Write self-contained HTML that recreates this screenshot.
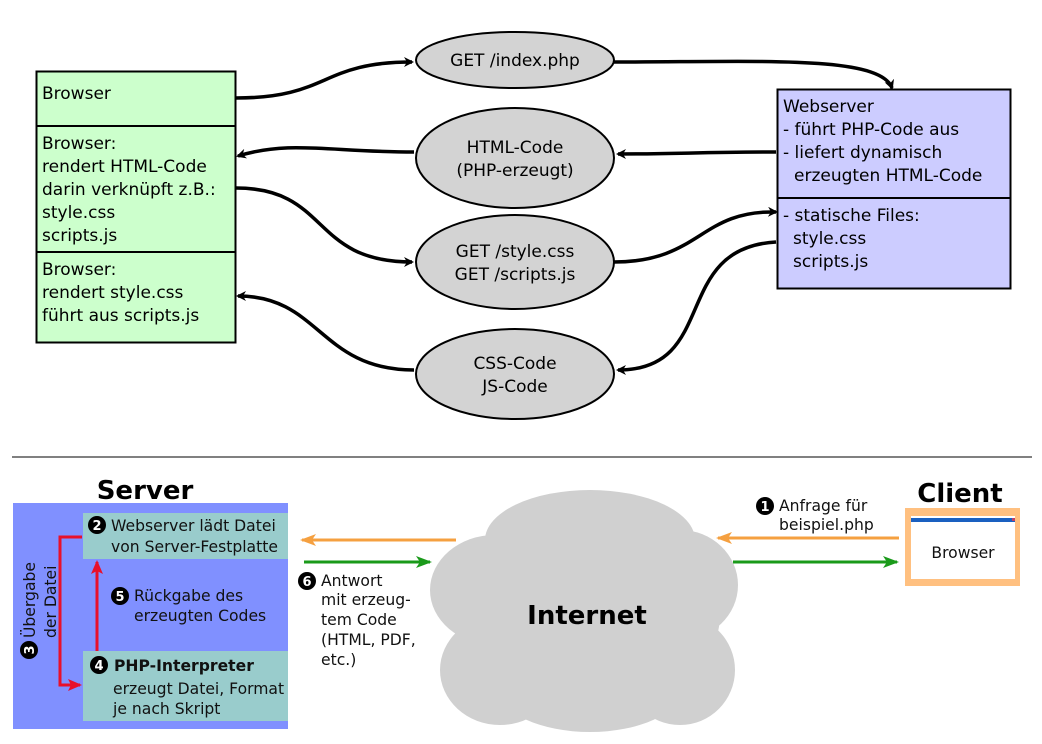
<!DOCTYPE html>
<html><head><meta charset="utf-8"><style>
html,body{margin:0;padding:0;background:#fff}
svg text{font-family:"DejaVu Sans","Liberation Sans",sans-serif;}
</style></head><body>
<svg width="1042" height="739" viewBox="0 0 1042 739" xmlns="http://www.w3.org/2000/svg">
<defs>
<marker id="ab" markerWidth="10" markerHeight="10" refX="8" refY="5" orient="auto" markerUnits="userSpaceOnUse"><path d="M0,0 L10,5 L0,10 L3,5 z" fill="#000"/></marker>
<marker id="ao" markerWidth="16" markerHeight="12" refX="14" refY="6" orient="auto" markerUnits="userSpaceOnUse"><path d="M0,0 L16,6 L0,12 L4,6 z" fill="#f5a040"/></marker>
<marker id="ag" markerWidth="16" markerHeight="12" refX="14" refY="6" orient="auto" markerUnits="userSpaceOnUse"><path d="M0,0 L16,6 L0,12 L4,6 z" fill="#1a9a1a"/></marker>
<marker id="ar" markerWidth="14" markerHeight="12" refX="12" refY="6" orient="auto" markerUnits="userSpaceOnUse"><path d="M0,0 L14,6 L0,12 L3,6 z" fill="#e8102a"/></marker>
</defs>
<!-- Top diagram -->
<rect x="36.5" y="71.5" width="199" height="271" fill="#ccffcc" stroke="#000" stroke-width="2"/>
<line x1="36" y1="126" x2="236" y2="126" stroke="#000" stroke-width="2"/>
<line x1="36" y1="252" x2="236" y2="252" stroke="#000" stroke-width="2"/>
<g font-size="17" fill="#000">
<text x="42" y="99">Browser</text>
<text x="42" y="149">Browser:</text>
<text x="42" y="172">rendert HTML-Code</text>
<text x="42" y="195">darin verknüpft z.B.:</text>
<text x="42" y="218">style.css</text>
<text x="42" y="241">scripts.js</text>
<text x="42" y="275">Browser:</text>
<text x="42" y="298">rendert style.css</text>
<text x="42" y="321">führt aus scripts.js</text>
</g>
<rect x="777.5" y="89.5" width="233" height="199" fill="#ccccff" stroke="#000" stroke-width="2"/>
<line x1="777" y1="198" x2="1011" y2="198" stroke="#000" stroke-width="2"/>
<g font-size="17" fill="#000">
<text x="783" y="112">Webserver</text>
<text x="783" y="135">- führt PHP-Code aus</text>
<text x="783" y="158">- liefert dynamisch</text>
<text x="794" y="181">erzeugten HTML-Code</text>
<text x="783" y="221">- statische Files:</text>
<text x="793" y="244">style.css</text>
<text x="793" y="267">scripts.js</text>
</g>
<g fill="#d3d3d3" stroke="#000" stroke-width="2">
<ellipse cx="515" cy="60" rx="99" ry="28"/>
<ellipse cx="515" cy="158" rx="99" ry="50"/>
<ellipse cx="515" cy="262" rx="99" ry="47"/>
<ellipse cx="515" cy="374" rx="99" ry="45"/>
</g>
<g font-size="17" fill="#000" text-anchor="middle">
<text x="515" y="66">GET /index.php</text>
<text x="515" y="153">HTML-Code</text>
<text x="515" y="176">(PHP-erzeugt)</text>
<text x="515" y="257">GET /style.css</text>
<text x="515" y="280">GET /scripts.js</text>
<text x="515" y="369">CSS-Code</text>
<text x="515" y="392">JS-Code</text>
</g>
<g fill="none" stroke="#000" stroke-width="3.5">
<path d="M236,98 C330,98 320,62 412,62" marker-end="url(#ab)"/>
<path d="M614,62 C760,62 880,55 892,88" marker-end="url(#ab)"/>
<path d="M776,152 C700,152 680,154 618,154" marker-end="url(#ab)"/>
<path d="M414,152 C330,152 290,140 238,156" marker-end="url(#ab)"/>
<path d="M236,188 C330,188 310,262 412,262" marker-end="url(#ab)"/>
<path d="M614,262 C700,262 700,210 776,212" marker-end="url(#ab)"/>
<path d="M776,242 C670,248 720,370 618,370" marker-end="url(#ab)"/>
<path d="M414,370 C320,370 320,296 238,296" marker-end="url(#ab)"/>
</g>
<line x1="12" y1="457" x2="1032" y2="457" stroke="#000" stroke-width="1"/>
<!-- Bottom diagram -->
<text x="145" y="499" font-size="26" font-weight="bold" text-anchor="middle">Server</text>
<text x="960" y="502" font-size="26" font-weight="bold" text-anchor="middle">Client</text>
<rect x="13" y="503" width="275" height="226" fill="#8090ff"/>
<rect x="83" y="513" width="205" height="46" fill="#99cccc"/>
<rect x="83" y="651" width="205" height="70" fill="#99cccc"/>
<g font-size="15.6" fill="#111">
<circle cx="97" cy="525" r="9" fill="#000"/><text x="97" y="530" font-size="13" fill="#fff" text-anchor="middle" font-weight="bold">2</text>
<text x="111" y="531">Webserver lädt Datei</text>
<text x="111" y="552">von Server-Festplatte</text>
<circle cx="120" cy="596" r="9" fill="#000"/><text x="120" y="601" font-size="13" fill="#fff" text-anchor="middle" font-weight="bold">5</text>
<text x="134" y="601">Rückgabe des</text>
<text x="134" y="621">erzeugten Codes</text>
<circle cx="99" cy="665" r="9" fill="#000"/><text x="99" y="670" font-size="13" fill="#fff" text-anchor="middle" font-weight="bold">4</text>
<text x="114" y="671" font-weight="bold">PHP-Interpreter</text>
<text x="113" y="694">erzeugt Datei, Format</text>
<text x="113" y="714">je nach Skript</text>
<g transform="rotate(-90)">
<circle cx="-650" cy="29" r="9" fill="#000"/><text x="-650" y="34" font-size="13" fill="#fff" text-anchor="middle" font-weight="bold">3</text>
<text x="-638" y="35">Übergabe</text>
<text x="-638" y="56">der Datei</text>
</g>
</g>
<path d="M82,537 L60,537 L60,685 L80,685" fill="none" stroke="#e8102a" stroke-width="3" marker-end="url(#ar)"/>
<line x1="97" y1="651" x2="97" y2="562" stroke="#e8102a" stroke-width="3" marker-end="url(#ar)"/>
<!-- cloud -->
<g fill="#d0d0d0">
<ellipse cx="590" cy="540" rx="105" ry="50"/>
<ellipse cx="495" cy="590" rx="65" ry="55"/>
<ellipse cx="680" cy="585" rx="58" ry="55"/>
<ellipse cx="500" cy="670" rx="60" ry="55"/>
<ellipse cx="680" cy="670" rx="55" ry="55"/>
<ellipse cx="590" cy="690" rx="90" ry="42"/>
<ellipse cx="590" cy="615" rx="130" ry="95"/>
</g>
<text x="587" y="624" font-size="26" font-weight="bold" text-anchor="middle">Internet</text>
<line x1="456" y1="540" x2="302" y2="540" stroke="#f5a040" stroke-width="3" marker-end="url(#ao)"/>
<line x1="304" y1="562" x2="430" y2="562" stroke="#1a9a1a" stroke-width="3" marker-end="url(#ag)"/>
<line x1="899" y1="538" x2="718" y2="538" stroke="#f5a040" stroke-width="3" marker-end="url(#ao)"/>
<line x1="733" y1="562" x2="897" y2="562" stroke="#1a9a1a" stroke-width="3" marker-end="url(#ag)"/>
<g font-size="15.6" fill="#111">
<circle cx="307" cy="581" r="9" fill="#000"/><text x="307" y="586" font-size="13" fill="#fff" text-anchor="middle" font-weight="bold">6</text>
<text x="321" y="586">Antwort</text>
<text x="321" y="605">mit erzeug-</text>
<text x="321" y="625">tem Code</text>
<text x="321" y="645">(HTML, PDF,</text>
<text x="321" y="665">etc.)</text>
<circle cx="765" cy="506" r="9" fill="#000"/><text x="765" y="511" font-size="13" fill="#fff" text-anchor="middle" font-weight="bold">1</text>
<text x="779" y="511">Anfrage für</text>
<text x="779" y="530">beispiel.php</text>
</g>
<rect x="905" y="508" width="115" height="78" fill="#ffc080"/>
<rect x="911" y="516" width="104" height="63" fill="#fff"/>
<rect x="911" y="518" width="104" height="4" fill="#1a60c0"/>
<rect x="1012" y="518" width="3" height="3" fill="#c04060"/>
<text x="963" y="558" font-size="15.6" text-anchor="middle" fill="#111">Browser</text>
</svg>
</body></html>
